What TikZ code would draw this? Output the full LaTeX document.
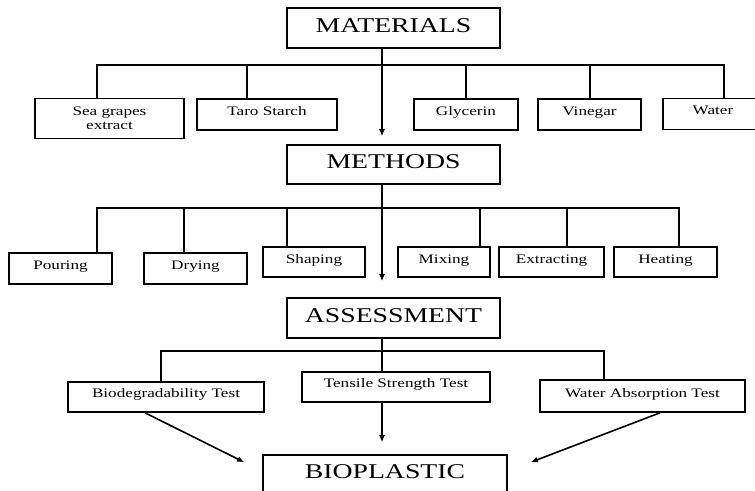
\documentclass[tikz,border=0pt]{standalone}
\usepackage{fontspec}
\setmainfont{Liberation Serif}[FakeStretch=1.32]
\usetikzlibrary{arrows.meta}
\begin{document}
\begin{tikzpicture}[x=1pt,y=-1pt,line width=1.6pt,
  title/.style={draw,inner sep=0pt,minimum width=213pt,font=\fontsize{21}{24}\selectfont},
  itembox/.style={draw,inner sep=0pt,font=\fontsize{13}{14}\selectfont},
  item/.style={itembox,text height=16pt,text depth=15pt},
  arr/.style={-{Latex[length=7pt,width=6pt]}}]
\useasboundingbox (0,0) rectangle (755,490);
% titles
\node[title,text height=24pt,text depth=16pt] (mat) at (393.5,28) {MATERIALS};
\node[title,text height=23pt,text depth=16pt] (meth) at (393.5,164.5) {METHODS};
\node[title,text height=24pt,text depth=16pt] (ass) at (393.5,318) {ASSESSMENT};
\node[title,minimum width=244pt,text height=23pt,text depth=27pt] (bp) at (385,480) {BIOPLASTIC};
% materials
\node[itembox,align=center,minimum width=149pt,minimum height=40pt] (sea) at (109.5,118.5) {Sea grapes\\extract};
\node[item,minimum width=140pt] (taro) at (267,114.5) {Taro Starch};
\node[item,minimum width=104pt] (gly) at (466,114.5) {Glycerin};
\node[item,minimum width=103pt] (vin) at (589.5,114.5) {Vinegar};
\node[item,minimum width=100pt] (wat) at (713,114) {Water};
% methods
\node[item,minimum width=103pt] (pour) at (60.5,268.5) {Pouring};
\node[item,minimum width=103pt] (dry) at (195.5,268.5) {Drying};
\node[item,minimum width=102pt,text height=16pt,text depth=14pt] (shape) at (314,262) {Shaping};
\node[item,minimum width=92pt,text height=16pt,text depth=14pt] (mix) at (444,262) {Mixing};
\node[item,minimum width=105pt,text height=16pt,text depth=14pt] (ext) at (551.5,262) {Extracting};
\node[item,minimum width=103pt,text height=16pt,text depth=14pt] (heat) at (665.5,262) {Heating};
% assessment
\node[item,minimum width=196pt,text height=15pt,text depth=15pt] (bio) at (166,397) {Biodegradability Test};
\node[item,minimum width=188pt,text height=15pt,text depth=15pt] (ts) at (396,387) {Tensile Strength Test};
\node[item,minimum width=205pt,text height=17pt,text depth=15pt] (wa) at (642.5,396) {Water Absorption Test};
% bars
\coordinate (mbar) at (0,65);
\coordinate (tbar) at (0,208);
\coordinate (abar) at (0,351);
% materials connectors
\coordinate (m1) at ([xshift=-12.5pt]sea.north);
\coordinate (m2) at ([xshift=-20pt]taro.north);
\coordinate (m3) at (gly.north);
\coordinate (m4) at ([xshift=0.5pt]vin.north);
\coordinate (m5) at ([xshift=11pt]wat.north);
\draw (m1) |- (m5 |- mbar) -- (m5);
\draw (m2) -- (m2 |- mbar);
\draw (m3) -- (m3 |- mbar);
\draw (m4) -- (m4 |- mbar);
% methods connectors
\coordinate (p1) at ([xshift=36.5pt]pour.north);
\coordinate (p2) at ([xshift=-11.5pt]dry.north);
\coordinate (p3) at ([xshift=-27pt]shape.north);
\coordinate (p4) at ([xshift=36pt]mix.north);
\coordinate (p5) at ([xshift=15.5pt]ext.north);
\coordinate (p6) at ([xshift=13.5pt]heat.north);
\draw (p1) |- (p6 |- tbar) -- (p6);
\draw (p2) -- (p2 |- tbar);
\draw (p3) -- (p3 |- tbar);
\draw (p4) -- (p4 |- tbar);
\draw (p5) -- (p5 |- tbar);
% assessment connectors
\coordinate (b1) at ([xshift=-5pt]bio.north);
\coordinate (b2) at ([xshift=-38.5pt]wa.north);
\draw (b1) |- (b2 |- abar) -- (b2);
% main flow
\coordinate (a1) at ([xshift=-11.5pt]mat.south);
\draw[arr,shorten >=8pt] (a1) -- (a1 |- meth.north);
\coordinate (a2) at ([xshift=-11.5pt]meth.south);
\draw[arr,shorten >=16pt] (a2) -- (a2 |- ass.north);
\coordinate (a3) at ([xshift=-11.5pt]ass.south);
\draw (a3) -- (a3 |- ts.north);
\coordinate (a4) at ([xshift=-14pt]ts.south);
\draw[arr,shorten >=12pt] (a4) -- (a4 |- bp.north);
% diagonals
\coordinate (t1) at ([shift={(-18,8)}]bp.north west);
\coordinate (t2) at ([shift={(23,8)}]bp.north east);
\draw[arr] ([xshift=-21pt]bio.south) -- (t1);
\draw[arr] ([xshift=17.5pt]wa.south) -- (t2);
\end{tikzpicture}
\end{document}
